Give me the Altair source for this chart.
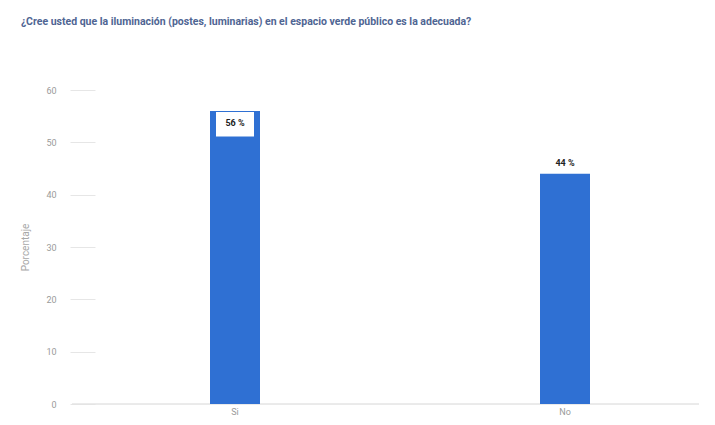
import altair as alt
import pandas as pd

categories = ["Si", "No"]
values = [56, 44]
labels = ["56 %", "44 %"]

df = pd.DataFrame({"respuesta": categories, "valor": values, "etiqueta": labels})

BLUE = "#2F70D3"

x_enc = alt.X(
    "respuesta:N",
    sort=categories,
    scale=alt.Scale(range=[-2, 658], paddingInner=0, paddingOuter=0),
    axis=None,
)
y_scale = alt.Scale(domain=[0, 60])

base = alt.Chart(df)

baseline = base.mark_rule(color="#e4e4e4", strokeWidth=1).encode(
    y=alt.datum(0, scale=y_scale)
)

bars = base.mark_bar(size=50, color=BLUE).encode(
    x=x_enc,
    y=alt.Y(
        "valor:Q",
        scale=y_scale,
        axis=alt.Axis(
            title="Porcentaje", values=[0, 10, 20, 30, 40, 50, 60],
            domain=False, ticks=False, grid=True, gridColor="#e6e6e6",
            gridDash=[25, 3000], labelColor="#9a9a9a", labelFontSize=9,
            labelPadding=16, titleColor="#a8a8a8", titleFontSize=10,
            titleFontWeight="normal", titlePadding=15, labelFont="Roboto",
            titleFont="Roboto",
        ),
    ),
)

xlabels = base.mark_text(
    font="Roboto", fontSize=9, color="#9a9a9a", dy=8, baseline="middle"
).encode(x=x_enc, y=alt.datum(0, scale=y_scale), text="respuesta:N")

inside = base.transform_filter("datum.valor > 50").transform_calculate(
    top="datum.valor - 0.2", bottom="datum.valor - 4.9"
)

box = inside.mark_bar(size=38, color="white").encode(
    x=x_enc, y=alt.Y("top:Q", scale=y_scale), y2="bottom:Q"
)

text_in = inside.mark_text(
    font="Roboto", fontSize=9, fontWeight="bold", color="#222", dy=12, baseline="middle"
).encode(x=x_enc, y=alt.Y("valor:Q", scale=y_scale), text="etiqueta:N")

text_out = base.transform_filter("datum.valor <= 50").mark_text(
    font="Roboto", fontSize=9, fontWeight="bold", color="#222", dy=-11, baseline="middle"
).encode(x=x_enc, y=alt.Y("valor:Q", scale=y_scale), text="etiqueta:N")

chart = (
    alt.layer(baseline, bars, box, text_in, text_out, xlabels)
    .properties(
        width=627,
        height=314,
        title=alt.TitleParams(
            "¿Cree usted que la iluminación (postes, luminarias) en el espacio verde público es la adecuada?",
            anchor="start", frame="bounds", font="Roboto", fontSize=10.5,
            fontWeight="bold", color="#4f6593", offset=59,
        ),
        padding={"left": 12, "top": 8, "right": 0, "bottom": 0},
    )
    .configure_view(stroke=None)
)

chart.save("out.html", embed_options={"renderer": "svg", "actions": False})
